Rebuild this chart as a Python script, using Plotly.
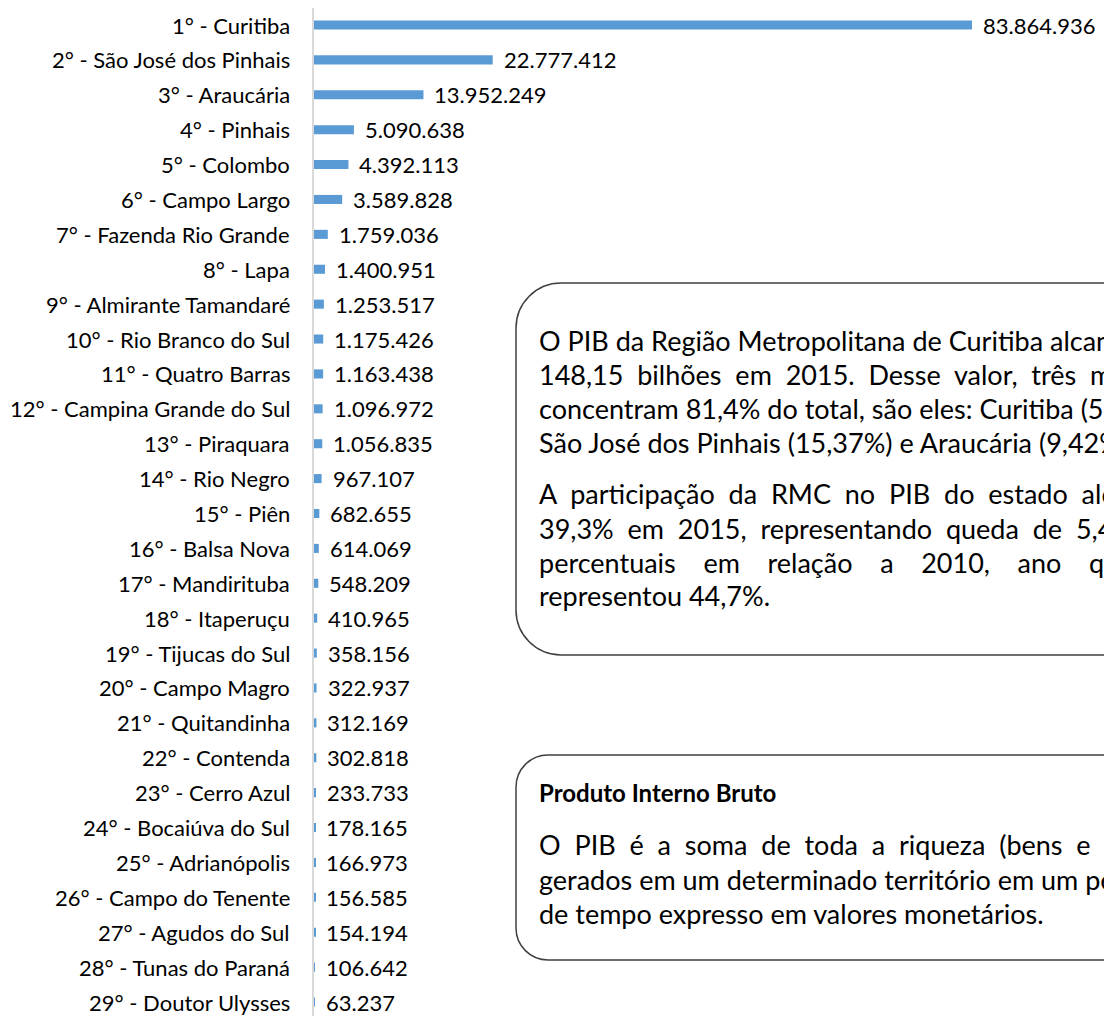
import plotly.graph_objects as go

categories = [
    "1° - Curitiba", "2° - São José dos Pinhais", "3° - Araucária", "4° - Pinhais",
    "5° - Colombo", "6° - Campo Largo", "7° - Fazenda Rio Grande", "8° - Lapa",
    "9° - Almirante Tamandaré", "10° - Rio Branco do Sul", "11° - Quatro Barras",
    "12° - Campina Grande do Sul", "13° - Piraquara", "14° - Rio Negro", "15° - Piên",
    "16° - Balsa Nova", "17° - Mandirituba", "18° - Itaperuçu", "19° - Tijucas do Sul",
    "20° - Campo Magro", "21° - Quitandinha", "22° - Contenda", "23° - Cerro Azul",
    "24° - Bocaiúva do Sul", "25° - Adrianópolis", "26° - Campo do Tenente",
    "27° - Agudos do Sul", "28° - Tunas do Paraná", "29° - Doutor Ulysses",
]
values = [
    83864936, 22777412, 13952249, 5090638, 4392113, 3589828, 1759036, 1400951,
    1253517, 1175426, 1163438, 1096972, 1056835, 967107, 682655, 614069, 548209,
    410965, 358156, 322937, 312169, 302818, 233733, 178165, 166973, 156585,
    154194, 106642, 63237,
]
value_labels = [f"{v:,}".replace(",", ".") for v in values]

box1_par1 = [
    "O PIB da Região Metropolitana de Curitiba alcançou R$",
    "148,15 bilhões em 2015. Desse valor, três municípios",
    "concentram 81,4% do total, são eles: Curitiba (56,61%),",
    "São José dos Pinhais (15,37%) e Araucária (9,42%).",
]
box1_par2 = [
    "A participação da RMC no PIB do estado alcançou",
    "39,3% em 2015, representando queda de 5,4 pontos",
    "percentuais em relação a 2010, ano que a RMC",
    "representou 44,7%.",
]
box2_title = "Produto Interno Bruto"
box2_lines = [
    "O PIB é a soma de toda a riqueza (bens e serviços)",
    "gerados em um determinado território em um período",
    "de tempo expresso em valores monetários.",
]
# word-gap widths (in spaces) imitating the justified paragraphs
box1_par1_gaps = [1, 2, 1, 1]
box1_par2_gaps = [2, 2, 4, 1]
box2_gaps = [2, 1, 1]

W, H = 1104, 1016
ML, MT = 314, 8
PW, PH = W - ML, H - MT
FONT = "Lato, Calibri, Carlito, sans-serif"

def px(x):
    return (x - ML) / PW

def py(y):
    return (H - y) / PH

n = len(categories)
ypos = list(range(n))
ROW_TOP, ROW_BOTTOM = 25, 1002
step = (ROW_BOTTOM - ROW_TOP) / (n - 1)

fig = go.Figure()
fig.add_trace(go.Bar(
    x=values, y=ypos, orientation="h", width=0.26,
    marker=dict(color="#5B9BD5", line=dict(width=0)),
    hoverinfo="skip", showlegend=False,
))

annotations = []
for v, yv, lab, cat in zip(values, ypos, value_labels, categories):
    annotations.append(dict(
        x=v, y=yv, xref="x", yref="y", text=lab, showarrow=False,
        xanchor="left", yanchor="middle", xshift=9,
        font=dict(family=FONT, size=22, color="#000000"),
    ))
    annotations.append(dict(
        x=0, y=yv, xref="x", yref="y", text=cat, showarrow=False,
        xanchor="right", yanchor="middle", xshift=-22,
        font=dict(family=FONT, size=22, color="#000000"),
    ))

def rounded_path(x0, y0, x1, y1, r):
    k = 0.5523 * r
    def P(x, y):
        return f"{px(x):.5f},{py(y):.5f}"
    return (
        f"M {P(x0 + r, y0)} L {P(x1 - r, y0)} "
        f"C {P(x1 - r + k, y0)} {P(x1, y0 + r - k)} {P(x1, y0 + r)} "
        f"L {P(x1, y1 - r)} "
        f"C {P(x1, y1 - r + k)} {P(x1 - r + k, y1)} {P(x1 - r, y1)} "
        f"L {P(x0 + r, y1)} "
        f"C {P(x0 + r - k, y1)} {P(x0, y1 - r + k)} {P(x0, y1 - r)} "
        f"L {P(x0, y0 + r)} "
        f"C {P(x0, y0 + r - k)} {P(x0 + r - k, y0)} {P(x0 + r, y0)} Z"
    )

shapes = [
    dict(type="path", xref="paper", yref="paper",
         path=rounded_path(516, 283, 1180, 655, 45),
         line=dict(color="#404040", width=1.5), fillcolor="rgba(0,0,0,0)", layer="above"),
    dict(type="path", xref="paper", yref="paper",
         path=rounded_path(516, 755, 1180, 960, 32),
         line=dict(color="#404040", width=1.5), fillcolor="rgba(0,0,0,0)", layer="above"),
]

def add_line(text, x, y, gap=1, bold=False, size=27):
    t = ("\u00a0" * gap).join(text.split(" ")) if gap > 1 else text
    annotations.append(dict(
        x=px(x), y=py(y), xref="paper", yref="paper", text=(f"<b>{t}</b>" if bold else t),
        showarrow=False, xanchor="left", yanchor="middle",
        font=dict(family=FONT, size=size, color="#000000"),
    ))

for i, (t, g) in enumerate(zip(box1_par1, box1_par1_gaps)):
    add_line(t, 537, 340 + 34 * i, g)
for i, (t, g) in enumerate(zip(box1_par2, box1_par2_gaps)):
    add_line(t, 537, 494 + 34 * i, g)
add_line(box2_title, 537, 792, bold=True, size=24)
for i, (t, g) in enumerate(zip(box2_lines, box2_gaps)):
    add_line(t, 537, 845 + 34 * i, g)

fig.update_layout(
    width=W, height=H,
    margin=dict(l=ML, r=0, t=MT, b=0, pad=0),
    paper_bgcolor="white", plot_bgcolor="white",
    xaxis=dict(range=[0, PW / (658 / 83864936)], visible=False, fixedrange=True),
    yaxis=dict(
        range=[n - 1 + (H - ROW_BOTTOM) / step, -(ROW_TOP - MT) / step],
        showticklabels=False, showgrid=False, zeroline=False,
        showline=True, linecolor="#d9d9d9", linewidth=2, ticks="",
        fixedrange=True,
    ),
    shapes=shapes,
    annotations=annotations,
)

fig.write_html(
    "out.html",
    config={"displayModeBar": False},
    post_script="document.body.style.margin='0';document.body.style.overflow='hidden';",
)
